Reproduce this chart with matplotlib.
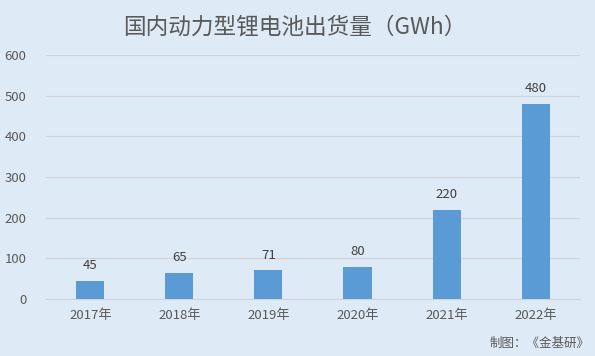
import matplotlib.pyplot as plt

plt.rcParams['font.family'] = ['Noto Sans CJK SC', 'DejaVu Sans']

years = ["2017年", "2018年", "2019年", "2020年", "2021年", "2022年"]
shipments = [45, 65, 71, 80, 220, 480]
y_ticks = [0, 100, 200, 300, 400, 500, 600]

bg = "#DEEAF6"
bar_color = "#5B9BD5"
text_color = "#595959"

fig = plt.figure(figsize=(5.95, 3.56), dpi=100, facecolor=bg)
ax = fig.add_axes([0.077, 0.160, 0.898, 0.6855], facecolor=bg)

x = range(len(years))
bars = ax.bar(x, shipments, width=0.315, color=bar_color, zorder=3)
for b, v in zip(bars, shipments):
    ax.annotate(str(v), (b.get_x() + b.get_width() / 2, v), xytext=(0, 6),
                textcoords="offset points", ha="center", va="bottom",
                fontsize=9.5, color="#404040")

ax.set_xlim(-0.5, len(years) - 0.5)
ax.set_ylim(0, 600)
ax.set_yticks(y_ticks)
ax.set_xticks(list(x))
ax.set_xticklabels(years)
ax.tick_params(axis="both", length=0, labelsize=9.5, colors=text_color)
ax.tick_params(axis="x", pad=7)
ax.tick_params(axis="y", pad=14)
ax.grid(axis="y", color="#D0D4D9", linewidth=0.8, zorder=0)
for s in ["top", "right", "left"]:
    ax.spines[s].set_visible(False)
ax.spines["bottom"].set_color("#D0D4D9")

fig.text(0.496, 0.924, "国内动力型锂电池出货量（GWh）", ha="center", va="center",
         fontsize=16.3, color=text_color)
fig.text(0.99, 0.035, "制图：《金基研》", ha="right", va="center",
         fontsize=9, color=text_color)

fig.savefig("out.png", dpi=100, facecolor=bg)
